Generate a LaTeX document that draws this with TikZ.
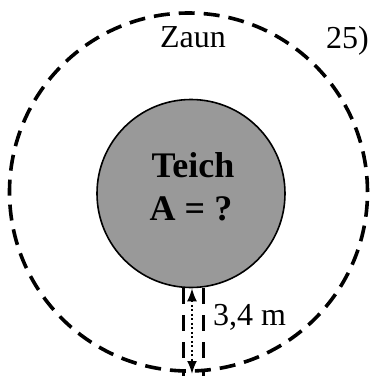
\documentclass[tikz,border=0pt]{standalone}
\usepackage{fontspec}
\setmainfont{Liberation Serif}
\usetikzlibrary{arrows.meta}
\begin{document}
\begin{tikzpicture}[x=1pt,y=-1pt,
  fence/.style={line width=3.6pt, dash pattern=on 16pt off 9pt},
  pond/.style={circle, draw, line width=1.6pt, fill=black!40, inner sep=0pt, minimum size=188pt},
  lbl/.style={inner sep=0pt, anchor=base, font=\fontsize{32}{38}\selectfont},
  blbl/.style={inner sep=0pt, anchor=base, font=\fontsize{36}{43}\selectfont\bfseries},
  dimline/.style={line width=3.8pt, dash pattern=on 16pt off 11pt},
  dimarrow/.style={line width=2pt, dash pattern=on 2pt off 2.5pt, {Latex[length=13pt,width=10pt]}-{Latex[length=13pt,width=10pt]}}]
\useasboundingbox (0,0) rectangle (374,376);
\node[circle, draw, fence, inner sep=0pt, minimum size=358pt] (fence) at (188.5,192) {};
\node[pond] (pond) at (191,193.5) {};
\node[blbl] (teich) at (193,177) {Teich};
\node[blbl] (area) at (191,220) {A = ?};
\node[lbl] (zaun) at (193,47) {Zaun};
\node[lbl, anchor=base west] (num) at (326,48) {25)};
\node[lbl, anchor=base west] (dist) at (213,325) {3,4 m};
\coordinate (l1) at (183.5,288);
\coordinate (l2) at (183.5,376);
\coordinate (r1) at (203.5,288);
\coordinate (r2) at (203.5,376);
\coordinate (a2) at (192,374);
\draw[dimline] (l1) -- (l2);
\draw[dimline] (r1) -- (r2);
\draw[dimarrow] (pond.south -| a2) -- (a2);
\end{tikzpicture}
\end{document}
